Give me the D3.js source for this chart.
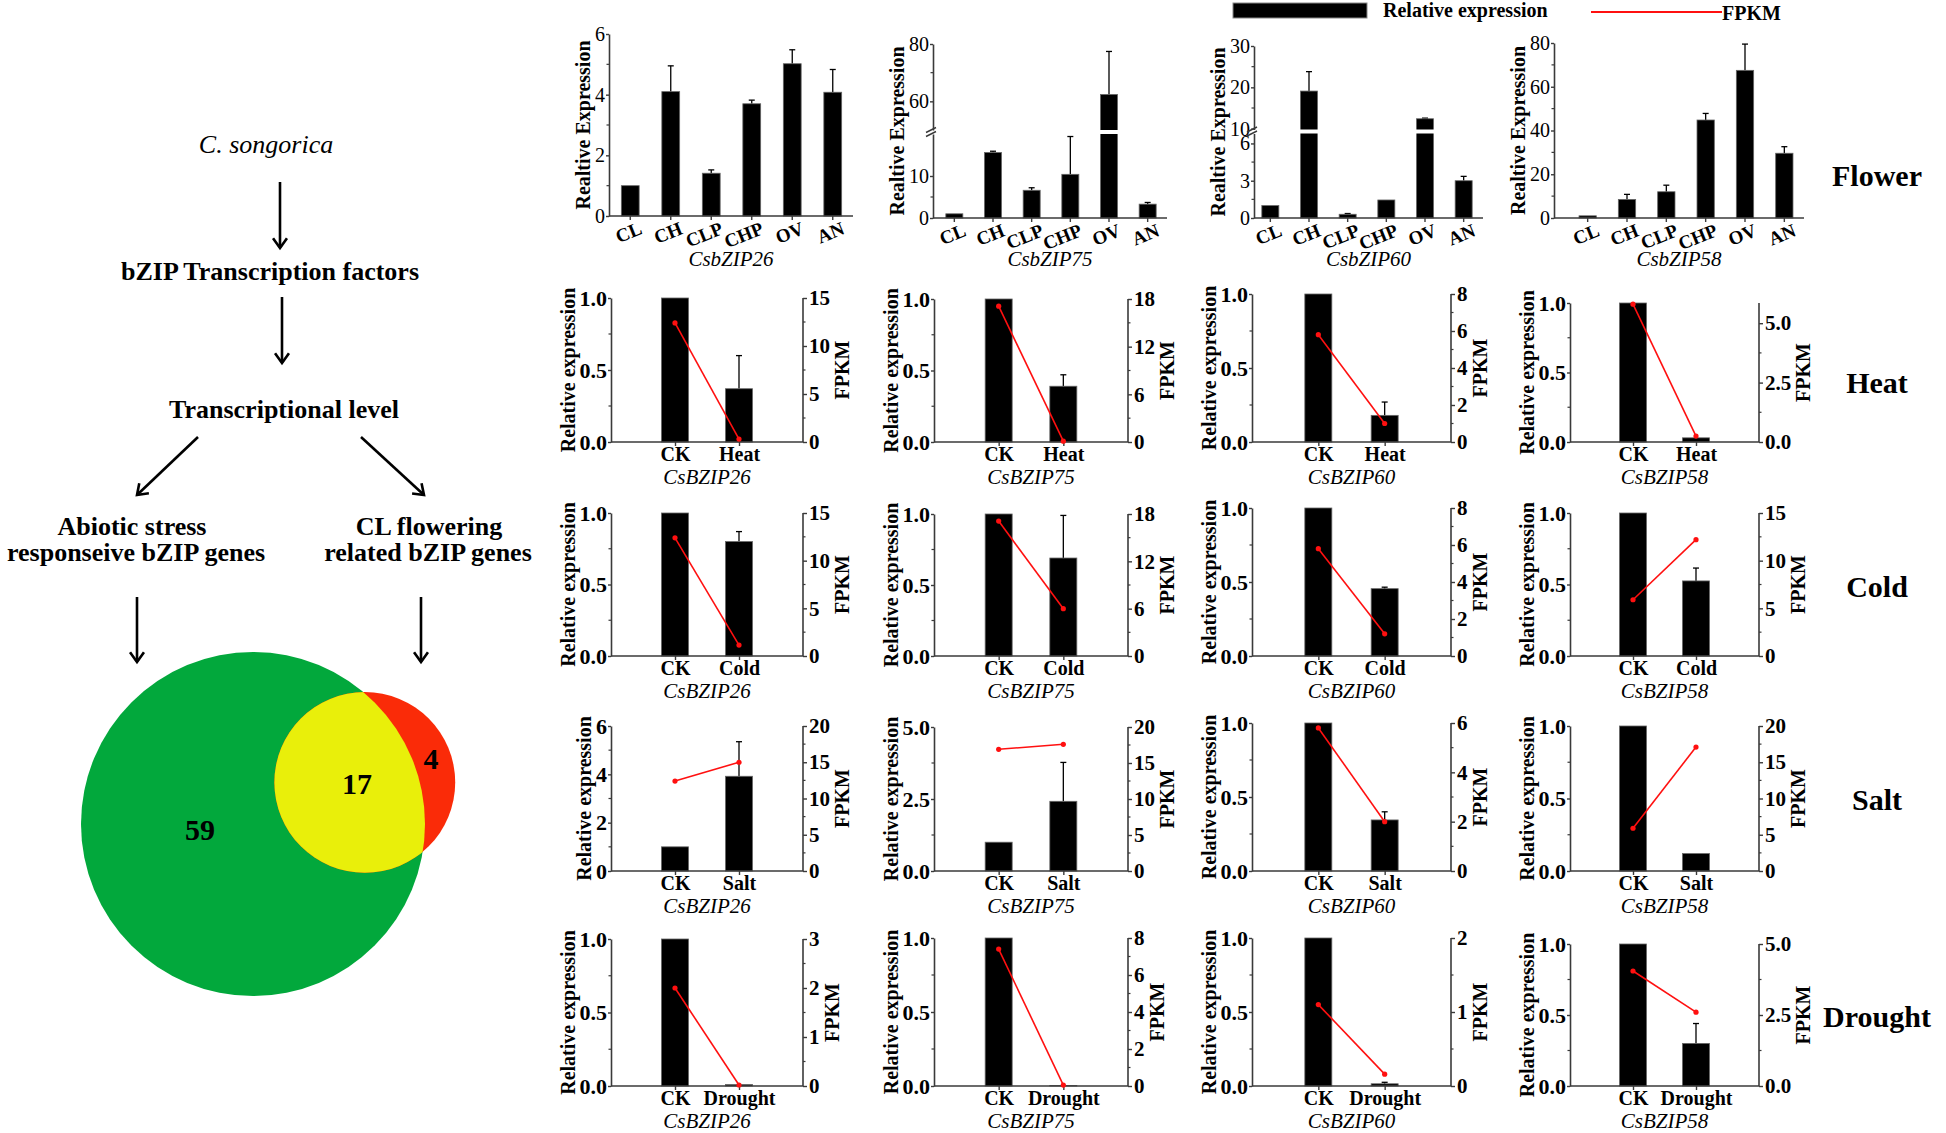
<!DOCTYPE html>
<html>
<head>
<meta charset="utf-8">
<title>bZIP expression</title>
<script src="https://cdn.jsdelivr.net/npm/d3@7/dist/d3.min.js"></script>
<style>
  body { margin: 0; background: #fff; }
  svg text { font-family: "Liberation Serif", "Times New Roman", serif; }
</style>
</head>
<body>
<svg id="fig" width="1946" height="1133"></svg>
<script>
// ---------- values ----------
var flowSteps = ["C. songorica", "bZIP Transcription factors", "Transcriptional level"]
var stressBranch = ["Abiotic stress", "responseive bZIP genes"]
var flowerBranch = ["CL flowering", "related bZIP genes"]
var vennCounts = [59, 17, 4]          // stress only, both, flowering only

var flowerCats = ["CL", "CH", "CLP", "CHP", "OV", "AN"]
var flowerGenes = ["CsbZIP26", "CsbZIP75", "CsbZIP60", "CsbZIP58"]
var flower26 = [1.0, 4.1, 1.41, 3.7, 5.02, 4.08]
var flower26Err = [0, 0.85, 0.11, 0.12, 0.46, 0.75]
var flower75 = [1.0, 15.6, 6.6, 10.4, 62.4, 3.3]
var flower75Err = [0, 0.3, 0.6, 9.0, 15.0, 0.4]
var flower60 = [1.0, 19.1, 0.3, 1.45, 12.4, 3.0]
var flower60Err = [0, 4.7, 0.06, 0, 0.15, 0.35]
var flower58 = [1.0, 8.5, 12.0, 44.8, 67.5, 29.6]
var flower58Err = [0, 2.3, 3.0, 3.0, 12.0, 3.0]
var flowerTicks = [[0, 2, 4, 6], [0, 10, 60, 80], [0, 3, 6, 10, 20, 30], [0, 20, 40, 60, 80]]

var stressGenes = ["CsBZIP26", "CsBZIP75", "CsBZIP60", "CsBZIP58"]
var treatments = ["Heat", "Cold", "Salt", "Drought"]
var rowLabels = ["Flower", "Heat", "Cold", "Salt", "Drought"]

var heatRel = [[1, 0.37], [1, 0.39], [1, 0.18], [1, 0.03]]
var heatErr = [[0, 0.23], [0, 0.08], [0, 0.09], [0, 0]]
var heatFpkm = [[12.4, 0.3], [17.1, 0.1], [5.8, 1.0], [5.8, 0.25]]
var coldRel = [[1, 0.8], [1, 0.69], [1, 0.455], [1, 0.525]]
var coldErr = [[0, 0.07], [0, 0.3], [0, 0.01], [0, 0.09]]
var coldFpkm = [[12.4, 1.15], [17.1, 6.0], [5.8, 1.2], [5.9, 12.2]]
var saltRel = [[1, 3.92], [1, 2.42], [1, 0.345], [1, 0.12]]
var saltErr = [[0, 1.43], [0, 1.35], [0, 0.055], [0, 0]]
var saltFpkm = [[12.4, 15.0], [16.9, 17.6], [5.8, 2.0], [5.9, 17.1]]
var droughtRel = [[1, 0.01], [1, 0.003], [1, 0.015], [1, 0.3]]
var droughtErr = [[0, 0], [0, 0], [0, 0.01], [0, 0.14]]
var droughtFpkm = [[2.0, 0.02], [7.4, 0.05], [1.1, 0.16], [4.05, 2.6]]

var relTicks = [0, 0.5, 1]
var heatRelTicks = [relTicks, relTicks, relTicks, relTicks]
var coldRelTicks = [relTicks, relTicks, relTicks, relTicks]
var saltRelTicks = [[0, 2, 4, 6], [0, 2.5, 5], relTicks, relTicks]
var droughtRelTicks = [relTicks, relTicks, relTicks, relTicks]
var heatFpkmTicks = [[0, 5, 10, 15], [0, 6, 12, 18], [0, 2, 4, 6, 8], [0, 2.5, 5]]
var coldFpkmTicks = [[0, 5, 10, 15], [0, 6, 12, 18], [0, 2, 4, 6, 8], [0, 5, 10, 15]]
var saltFpkmTicks = [[0, 5, 10, 15, 20], [0, 5, 10, 15, 20], [0, 2, 4, 6], [0, 5, 10, 15, 20]]
var droughtFpkmTicks = [[0, 1, 2, 3], [0, 2, 4, 6, 8], [0, 1, 2], [0, 2.5, 5]]
var heatFpkmMax = [15, 18, 8, 5.85]
var coldFpkmMax = [15, 18, 8, 15]
var saltFpkmMax = [20, 20, 6, 20]
var droughtFpkmMax = [3, 8, 2, 5]

// ---------- layout ----------
var svg = d3.select("#fig")
var axisColor = "#3a3a3a"
var red = "#ff1010"
svg.append("rect").attr("width", 1946).attr("height", 1133).attr("fill", "#fff")

function txt(g, x, y, s, size, weight, style, anchor) {
    return g.append("text").attr("x", x).attr("y", y).text(s)
        .attr("font-size", size).attr("font-weight", weight || "normal")
        .attr("font-style", style || "normal")
        .attr("text-anchor", anchor || "middle").attr("fill", "#000")
}

function vlabel(g, x, y, s, size) {
    return txt(g, x, y, s, size, "bold").attr("dy", "0.35em")
        .attr("transform", `rotate(-90,${x},${y})`)
}

function arrow(g, x1, y1, x2, y2) {
    var a = Math.atan2(y2 - y1, x2 - x1), len = 12, sp = 0.62
    g.append("line").attr("x1", x1).attr("y1", y1).attr("x2", x2).attr("y2", y2)
        .attr("stroke", "#000").attr("stroke-width", 2.6)
    var head = [[x2 - len * Math.cos(a - sp), y2 - len * Math.sin(a - sp)], [x2, y2],
                [x2 - len * Math.cos(a + sp), y2 - len * Math.sin(a + sp)]]
    g.append("path").attr("d", d3.line()(head)).attr("fill", "none")
        .attr("stroke", "#000").attr("stroke-width", 2.6).attr("stroke-linejoin", "miter")
}

function styleAxis(g, size, weight) {
    g.attr("font-family", '"Liberation Serif", "Times New Roman", serif')
        .attr("font-size", size).attr("font-weight", weight)
    g.select(".domain").attr("stroke", axisColor).attr("stroke-width", 1.6)
    g.selectAll(".tick line").attr("stroke", axisColor).attr("stroke-width", 1.4)
    g.selectAll(".tick text").attr("fill", "#000")
}

function minorTicks(g, scale, ticks, x, dir) {
    for (var i = 0; i < ticks.length - 1; i++) {
        var m = (ticks[i] + ticks[i + 1]) / 2
        g.append("line").attr("x1", x).attr("x2", x + dir * 2.5)
            .attr("y1", scale(m)).attr("y2", scale(m))
            .attr("stroke", axisColor).attr("stroke-width", 1.2)
    }
}

function fmtFor(ticks) {
    return ticks.some(function (t) { return t % 1 !== 0 }) ? d3.format(".1f") : d3.format("d")
}

// ---------- flow chart ----------
var flow = svg.append("g")
txt(flow, 266, 153, flowSteps[0], 26, "normal", "italic")
arrow(flow, 280, 182, 280, 248)
txt(flow, 270, 280, flowSteps[1], 26, "bold")
arrow(flow, 282, 297, 282, 363)
txt(flow, 284, 418, flowSteps[2], 26, "bold")
arrow(flow, 198, 437, 137, 495)
arrow(flow, 361, 437, 424, 495)
txt(flow, 132, 535, stressBranch[0], 26, "bold")
txt(flow, 136, 561, stressBranch[1], 26, "bold")
txt(flow, 429, 535, flowerBranch[0], 26, "bold")
txt(flow, 428, 561, flowerBranch[1], 26, "bold")
arrow(flow, 137, 597, 137, 662)
arrow(flow, 421, 597, 421, 662)

// ---------- Venn (area proportional) ----------
var venn = svg.append("g")
var k = 19.73
var nStress = vennCounts[0] + vennCounts[1], nFlower = vennCounts[1] + vennCounts[2]
var r1 = k * Math.sqrt(nStress), r2 = k * Math.sqrt(nFlower)
function lens(d) {
    var a = r1 * r1 * Math.acos((d * d + r1 * r1 - r2 * r2) / (2 * d * r1))
    var b = r2 * r2 * Math.acos((d * d + r2 * r2 - r1 * r1) / (2 * d * r2))
    var c = 0.5 * Math.sqrt((-d + r1 + r2) * (d + r1 - r2) * (d - r1 + r2) * (d + r1 + r2))
    return a + b - c
}
var target = Math.PI * k * k * vennCounts[1], lo = r1 - r2 + 0.01, hi = r1 + r2 - 0.01
for (var it = 0; it < 60; it++) {
    var mid = (lo + hi) / 2
    if (lens(mid) > target) lo = mid; else hi = mid
}
var dist = (lo + hi) / 2, ang = -20.4 * Math.PI / 180
var c1 = [253, 824], c2 = [c1[0] + dist * Math.cos(ang), c1[1] + dist * Math.sin(ang)]
venn.append("clipPath").attr("id", "bigClip").append("circle")
    .attr("cx", c1[0]).attr("cy", c1[1]).attr("r", r1)
venn.append("circle").attr("cx", c1[0]).attr("cy", c1[1]).attr("r", r1).attr("fill", "#02a83c")
venn.append("circle").attr("cx", c2[0]).attr("cy", c2[1]).attr("r", r2).attr("fill", "#fa2b08")
venn.append("circle").attr("cx", c2[0]).attr("cy", c2[1]).attr("r", r2).attr("fill", "#e9ef0a")
    .attr("clip-path", "url(#bigClip)")
txt(venn, 200, 840, vennCounts[0], 30, "bold")
txt(venn, 357, 794, vennCounts[1], 30, "bold")
txt(venn, 431, 769, vennCounts[2], 30, "bold")

// ---------- legend + row labels ----------
var leg = svg.append("g")
leg.append("rect").attr("x", 1233).attr("y", 3).attr("width", 134).attr("height", 15)
    .attr("fill", "#000").attr("stroke", "#888").attr("stroke-width", 1)
txt(leg, 1383, 17, "Relative expression", 20, "bold", "normal", "start")
leg.append("line").attr("x1", 1591).attr("x2", 1722).attr("y1", 12).attr("y2", 12)
    .attr("stroke", red).attr("stroke-width", 2)
txt(leg, 1722, 20, "FPKM", 20, "bold", "normal", "start")

var rowLabelY = [186, 393, 597, 810, 1027]
rowLabels.forEach(function (s, i) { txt(svg, 1877, rowLabelY[i], s, 30, "bold") })

// ---------- flower panels ----------
var flowerSeries = [flower26, flower75, flower60, flower58]
var flowerErrs = [flower26Err, flower75Err, flower60Err, flower58Err]
var flowerAxisX = [609, 933, 1254, 1554]
var flowerBand = [[610, 853], [935, 1167], [1251, 1483], [1568, 1804]]
var flowerSegs = [[[0, 6]], [[0, 20], [50, 80]], [[0, 6.8], [9.8, 30]], [[0, 80]]]
var flowerSegPx = [[[216, 34]], [[218, 134], [130, 44]], [[218, 133.5], [129.5, 46]], [[218, 43]]]

flowerSeries.forEach(function (vals, p) {
    var g = svg.append("g")
    var ax = flowerAxisX[p], segs = flowerSegs[p], px = flowerSegPx[p]
    var bottom = px[0][0]
    var y = d3.scaleLinear()
        .domain(d3.merge(segs)).range(d3.merge(px))
    var x = d3.scaleBand().domain(flowerCats).range(flowerBand[p]).paddingInner(0.56).paddingOuter(0.28)
    var data = flowerCats.map(function (c, i) { return {c: c, v: vals[i], e: flowerErrs[p][i]} })

    // error bars
    data.filter(function (d) { return d.e > 0 }).forEach(function (d) {
        var cx = x(d.c) + x.bandwidth() / 2
        g.append("line").attr("x1", cx).attr("x2", cx).attr("y1", y(d.v)).attr("y2", y(d.v + d.e))
            .attr("stroke", "#000").attr("stroke-width", 1.3)
        g.append("line").attr("x1", cx - 3).attr("x2", cx + 3).attr("y1", y(d.v + d.e)).attr("y2", y(d.v + d.e))
            .attr("stroke", "#000").attr("stroke-width", 1.3)
    })
    g.selectAll("rect.bar").data(data).enter().append("rect").attr("class", "bar")
        .attr("x", d => x(d.c)).attr("width", x.bandwidth())
        .attr("y", d => y(d.v)).attr("height", d => bottom - y(d.v))
        .attr("fill", "#000").attr("stroke", "#666").attr("stroke-width", 0.8)
    // white gap where bars cross the axis break
    for (var s = 1; s < segs.length; s++) {
        var gapTop = px[s][0], gapBot = px[s - 1][1]
        data.filter(function (d) { return d.v > segs[s][0] }).forEach(function (d) {
            g.append("rect").attr("x", x(d.c) - 1).attr("width", x.bandwidth() + 2)
                .attr("y", gapTop).attr("height", gapBot - gapTop).attr("fill", "#fff")
        })
    }

    // y axis, one piece per segment
    var leftEdge = ax
    segs.forEach(function (dom, s) {
        var sc = d3.scaleLinear().domain(dom).range(px[s])
        var tv = flowerTicks[p].filter(function (t) { return t >= dom[0] && t <= dom[1] })
        var ag = g.append("g").attr("transform", `translate(${ax},0)`)
            .call(d3.axisLeft(sc).tickValues(tv).tickFormat(d3.format("d")).tickSize(3).tickSizeOuter(0).tickPadding(1))
        styleAxis(ag, 20, "normal")
        minorTicks(g, sc, tv, ax, -1)
        leftEdge = Math.min(leftEdge, ax + ag.node().getBBox().x)
    })
    for (var s2 = 1; s2 < segs.length; s2++) {
        [px[s2][0], px[s2 - 1][1]].forEach(function (yy) {
            g.append("line").attr("x1", ax - 7).attr("x2", ax + 3).attr("y1", yy + 2.5).attr("y2", yy - 2.5)
                .attr("stroke", axisColor).attr("stroke-width", 1.4)
        })
    }

    // x axis
    g.append("line").attr("x1", ax).attr("x2", flowerBand[p][1]).attr("y1", bottom).attr("y2", bottom)
        .attr("stroke", axisColor).attr("stroke-width", 1.6)
    var xg = g.append("g").attr("transform", `translate(0,${bottom})`)
        .call(d3.axisBottom(x).tickSize(4).tickSizeOuter(0))
    styleAxis(xg, 19, "bold")
    xg.select(".domain").remove()
    xg.selectAll(".tick text").attr("x", 0).attr("y", 0).attr("dy", "0.7em")
        .attr("text-anchor", "end").attr("transform", "translate(8,5) rotate(-22)")

    var my = (bottom + px[px.length - 1][1]) / 2
    vlabel(g, leftEdge - 12, my, "Realtive Expression", 20)
    txt(g, (ax + flowerBand[p][1]) / 2, 266, flowerGenes[p], 21, "normal", "italic")
})

// ---------- stress panels ----------
var stressRel = [heatRel, coldRel, saltRel, droughtRel]
var stressErr = [heatErr, coldErr, saltErr, droughtErr]
var stressFpkm = [heatFpkm, coldFpkm, saltFpkm, droughtFpkm]
var stressRelTicks = [heatRelTicks, coldRelTicks, saltRelTicks, droughtRelTicks]
var stressFpkmTicks = [heatFpkmTicks, coldFpkmTicks, saltFpkmTicks, droughtFpkmTicks]
var stressFpkmMax = [heatFpkmMax, coldFpkmMax, saltFpkmMax, droughtFpkmMax]

var colL = [611, 934, 1252, 1570], colR = [803, 1128, 1451, 1759]
var rowBottom = [442, 656, 871, 1086]
var stressTops = [[298, 299, 294, 303], [513, 514, 508, 513], [726, 727, 723, 726], [939, 938, 938, 944]]

function drawStress(row, col) {
    var g = svg.append("g")
    var L = colL[col], R = colR[col], bottom = rowBottom[row], top = stressTops[row][col]
    var cats = ["CK", treatments[row]]
    var rel = stressRel[row][col], err = stressErr[row][col], fp = stressFpkm[row][col]
    var lt = stressRelTicks[row][col], rt = stressFpkmTicks[row][col]

    var x = d3.scalePoint().domain(cats).range([L, R]).padding(1)
    var y = d3.scaleLinear().domain([0, d3.max(lt)]).range([bottom, top])
    var y2 = d3.scaleLinear().domain([0, stressFpkmMax[row][col]]).range([bottom, top])
    var data = cats.map(function (c, i) { return {c: c, v: rel[i], e: err[i], f: fp[i]} })
    var bw = 27

    data.filter(function (d) { return d.e > 0 }).forEach(function (d) {
        g.append("line").attr("x1", x(d.c)).attr("x2", x(d.c)).attr("y1", y(d.v)).attr("y2", y(d.v + d.e))
            .attr("stroke", "#000").attr("stroke-width", 1.3)
        g.append("line").attr("x1", x(d.c) - 3).attr("x2", x(d.c) + 3).attr("y1", y(d.v + d.e)).attr("y2", y(d.v + d.e))
            .attr("stroke", "#000").attr("stroke-width", 1.3)
    })
    g.selectAll("rect.bar").data(data).enter().append("rect").attr("class", "bar")
        .attr("x", d => x(d.c) - bw / 2).attr("width", bw)
        .attr("y", d => y(d.v)).attr("height", d => bottom - y(d.v))
        .attr("fill", "#000").attr("stroke", "#666").attr("stroke-width", 0.8)

    var la = g.append("g").attr("transform", `translate(${L},0)`)
        .call(d3.axisLeft(y).tickValues(lt).tickFormat(fmtFor(lt)).tickSize(3).tickSizeOuter(0).tickPadding(1))
    styleAxis(la, 22, "bold")
    minorTicks(g, y, lt, L, -1)
    var ra = g.append("g").attr("transform", `translate(${R},0)`)
        .call(d3.axisRight(y2).tickValues(rt).tickFormat(fmtFor(rt)).tickSize(4).tickSizeOuter(0).tickPadding(2))
    styleAxis(ra, 21, "bold")
    ra.select(".domain").attr("d", `M0,${bottom}V${top}`)
    minorTicks(g, y2, rt, R, 1)

    g.append("line").attr("x1", L).attr("x2", R).attr("y1", bottom).attr("y2", bottom)
        .attr("stroke", axisColor).attr("stroke-width", 1.6)
    var xg = g.append("g").attr("transform", `translate(0,${bottom})`)
        .call(d3.axisBottom(x).tickSize(4).tickSizeOuter(0).tickPadding(1))
    styleAxis(xg, 20, "bold")
    xg.select(".domain").remove()

    g.append("path").attr("d", d3.line().x(d => x(d.c)).y(d => y2(d.f))(data))
        .attr("fill", "none").attr("stroke", red).attr("stroke-width", 1.6)
    g.selectAll("circle").data(data).enter().append("circle")
        .attr("cx", d => x(d.c)).attr("cy", d => y2(d.f)).attr("r", 2.6).attr("fill", red)

    var my = (bottom + top) / 2
    var lb = la.node().getBBox(), rb = ra.node().getBBox()
    vlabel(g, L + lb.x - 12, my, "Relative expression", 20)
    vlabel(g, R + rb.x + rb.width + 12, my, "FPKM", 20)
    txt(g, (L + R) / 2, bottom + 42, stressGenes[col], 21, "normal", "italic")
}

for (var r = 0; r < 4; r++) for (var c = 0; c < 4; c++) drawStress(r, c)
</script>
</body>
</html>
